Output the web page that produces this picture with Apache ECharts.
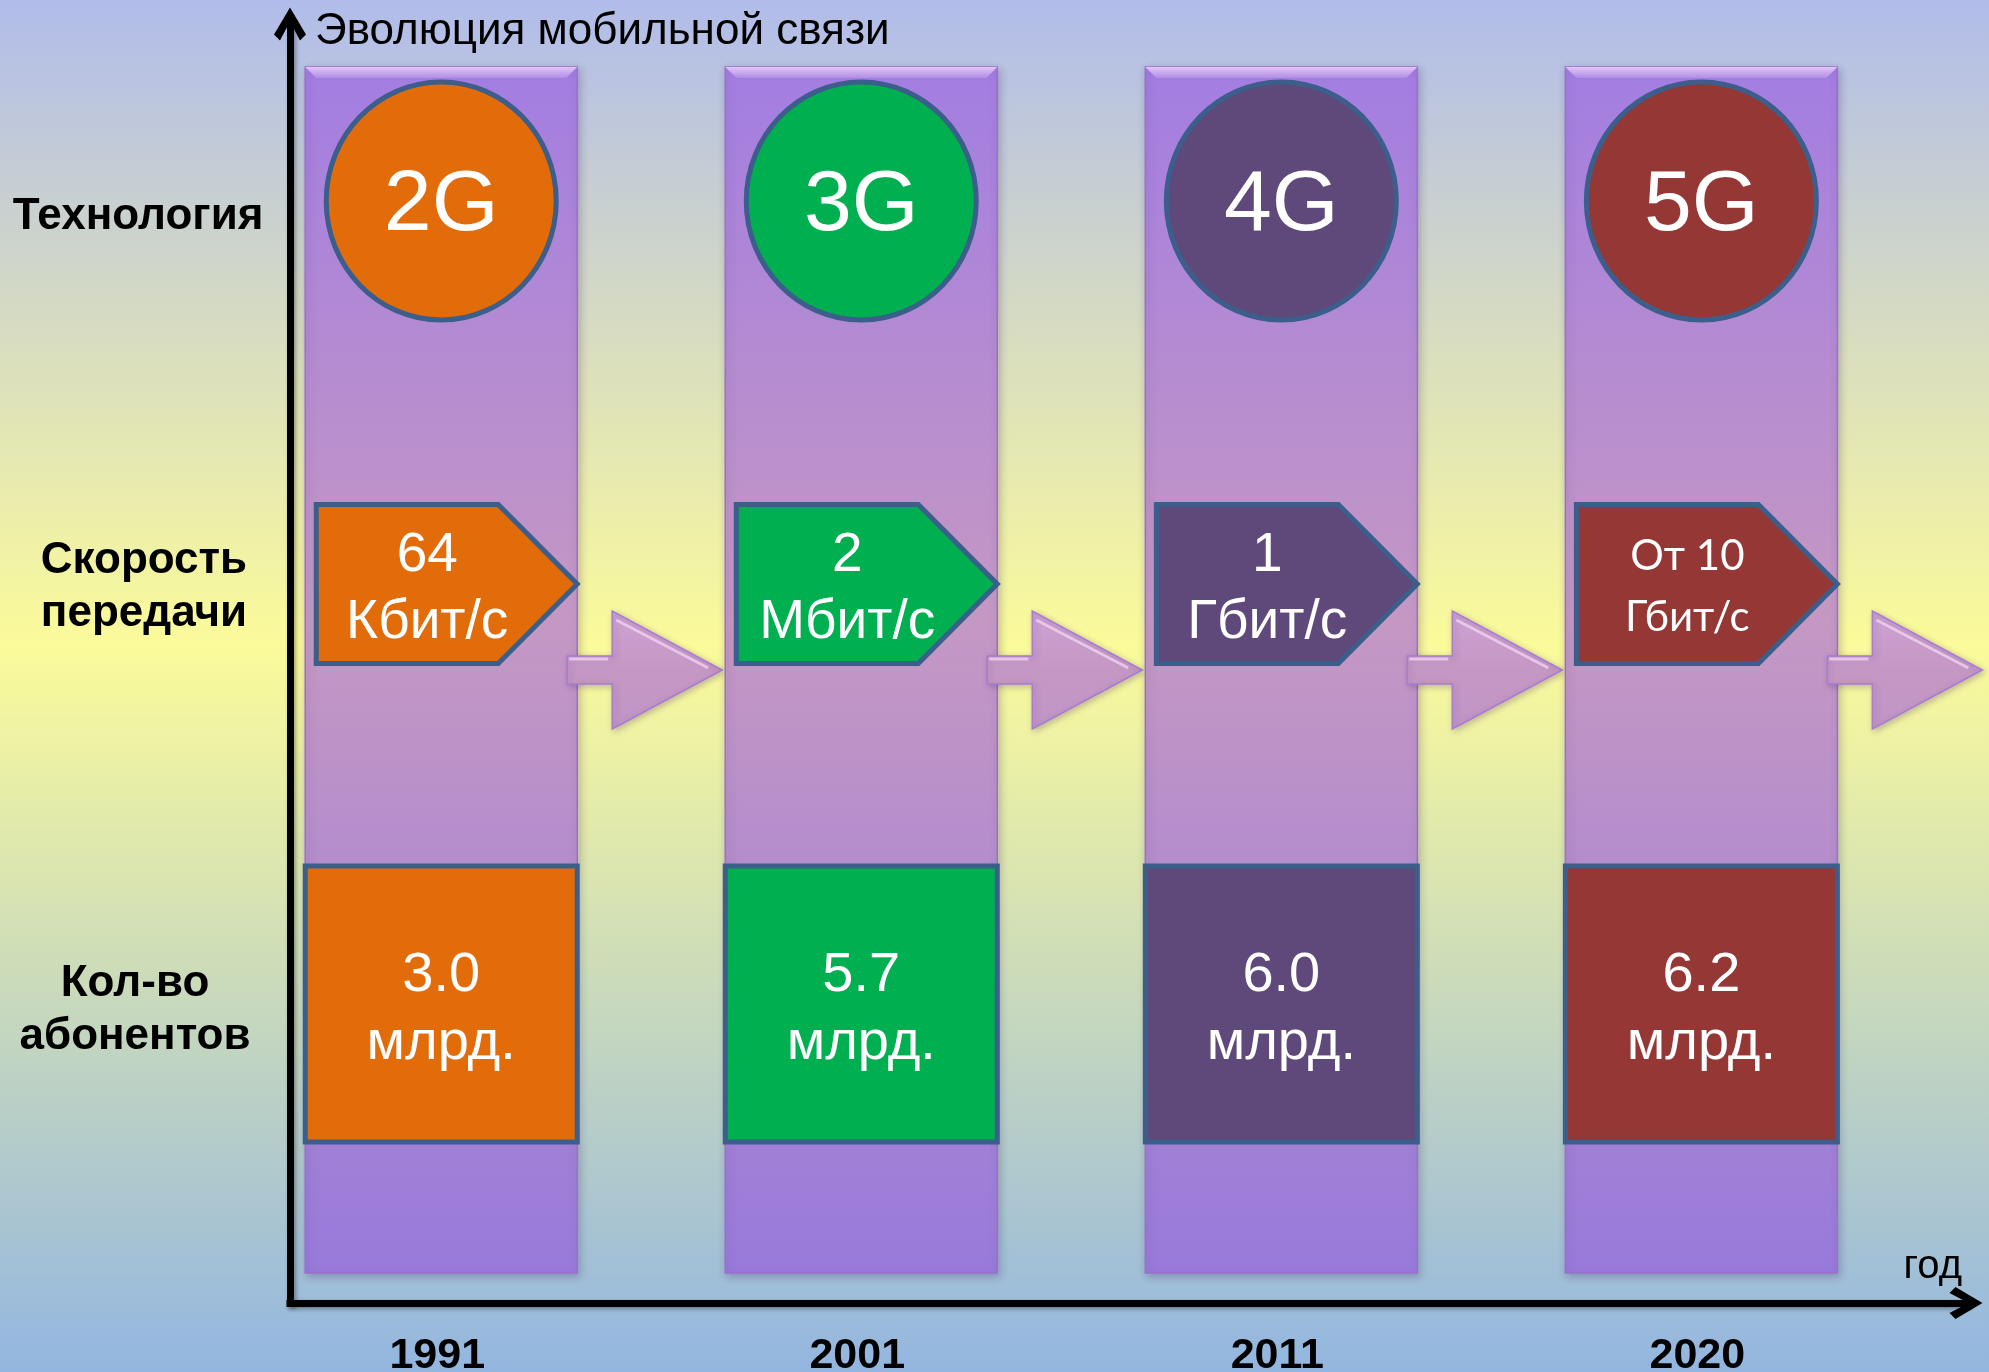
<!DOCTYPE html>
<html>
<head>
<meta charset="utf-8">
<script src="https://cdn.jsdelivr.net/npm/echarts@6/dist/echarts.min.js"></script>
<style>
html,body{margin:0;padding:0;background:#fff;}
#c{width:1989px;height:1372px;}
</style>
</head>
<body>
<div id="c"></div>
<script>
// ---- data ----
const years = ['1991', '2001', '2011', '2020'];
const technologies = ['2G', '3G', '4G', '5G'];
const speedValues = ['64', '2', '1', 'От 10'];
const speedUnits = ['Кбит/с', 'Мбит/с', 'Гбит/с', 'Гбит/с'];
const subscribers = [3.0, 5.7, 6.0, 6.2];
const subscriberUnit = 'млрд.';
const rowLabels = ['Технология', 'Скорость\nпередачи', 'Кол-во\nабонентов'];
const chartTitle = 'Эволюция мобильной связи';
const timeAxisName = 'год';

// ---- styles / layout ----
const palette = ['#E36C0A', '#00B050', '#5F497A', '#953735'];
const EDGE = '#3B5E8B';
const FONT = '"Liberation Sans", Arial, sans-serif';
const X_MIN = -0.36, X_MAX = 3.63;
const Y_MAX = 1279;
const COL_TOP = 1236, COL_BOTTOM = 30, COL_HALF = 136;
const ROW_TECH = 1102, ROW_SPEED = 719, ROW_SUBS = 299;
const LABEL_Y = [1086, 716, 293];
const LABEL_DX = [152, 146, 155];

const LG = (stops) => new echarts.graphic.LinearGradient(0, 0, 0, 1, stops);

function renderGeneration(params, api) {
  const i = api.value(0);
  const cx = api.coord([i, 0])[0];
  const yOf = v => api.coord([i, v])[1];
  const top = yOf(COL_TOP), bottom = yOf(COL_BOTTOM);
  const L = cx - COL_HALF, R = cx + COL_HALF;
  const techY = yOf(ROW_TECH), speedY = yOf(ROW_SPEED), subsY = yOf(ROW_SUBS);
  const color = palette[i];
  const ch = [];
  // column
  ch.push({
    type: 'rect', shape: { x: L, y: top, width: R - L, height: bottom - top },
    style: {
      fill: LG([{ offset: 0, color: '#A37DE2' }, { offset: 0.46, color: '#C598C3' }, { offset: 1, color: '#987ADB' }]),
      stroke: '#9A70CB', lineWidth: 1.5,
      shadowBlur: 8, shadowColor: 'rgba(70,40,110,0.30)', shadowOffsetX: 2, shadowOffsetY: 3
    }
  });
  ch.push({
    type: 'polygon', shape: { points: [[L, top], [R, top], [R - 11, top + 11], [L + 11, top + 11]] },
    style: { fill: LG([{ offset: 0, color: '#E2C4F6' }, { offset: 1, color: '#B18DE8' }]) }
  });
  // transition arrow
  const yc = speedY + 86;
  const s0 = R - 10, hb = R + 35, tip = R + 145;
  ch.push({
    type: 'polygon',
    shape: { points: [[s0, yc - 14], [hb, yc - 14], [hb, yc - 59], [tip, yc], [hb, yc + 59], [hb, yc + 14], [s0, yc + 14]] },
    style: {
      fill: LG([{ offset: 0, color: '#CDA2D2' }, { offset: 0.5, color: '#C597C4' }, { offset: 1, color: '#C095C6' }]),
      stroke: '#A77CD2', lineWidth: 1.5,
      shadowBlur: 6, shadowColor: 'rgba(80,50,120,0.30)', shadowOffsetX: 2, shadowOffsetY: 2
    }
  });
  ch.push({
    type: 'polyline', shape: { points: [[hb + 4, yc - 50], [tip - 14, yc - 2]] },
    style: { stroke: 'rgba(240,210,240,0.8)', lineWidth: 3 }
  });
  ch.push({
    type: 'polyline', shape: { points: [[s0 + 2, yc - 11], [hb - 4, yc - 11]] },
    style: { stroke: 'rgba(240,210,240,0.8)', lineWidth: 3 }
  });
  // technology ellipse
  ch.push({
    type: 'ellipse', shape: { cx: cx, cy: techY, rx: 115, ry: 119 },
    style: { fill: color, stroke: EDGE, lineWidth: 5 }
  });
  ch.push({
    type: 'text',
    style: {
      text: technologies[i], x: cx, y: techY + 5, align: 'center', verticalAlign: 'middle',
      fill: '#fff', fontSize: 86, fontFamily: FONT
    }
  });
  // speed pentagon
  const pL = L + 11, pBody = R - 79, pT = speedY - 79.5, pB = speedY + 79.5;
  ch.push({
    type: 'polygon', shape: { points: [[pL, pT], [pBody, pT], [R, speedY], [pBody, pB], [pL, pB]] },
    style: { fill: color, stroke: EDGE, lineWidth: 5, lineJoin: 'miter' }
  });
  const small = speedValues[i].length > 3;
  ch.push({
    type: 'text',
    style: {
      text: speedValues[i] + '\n' + speedUnits[i], x: cx - 14, y: speedY + (small ? 3 : 5),
      align: 'center', verticalAlign: 'middle', fill: '#fff',
      fontSize: small ? 42 : 55, lineHeight: small ? 61 : 67,
      fontFamily: small ? 'Lato, "Open Sans", sans-serif' : FONT
    }
  });
  // subscribers box
  ch.push({
    type: 'rect', shape: { x: L, y: subsY - 138, width: R - L, height: 276 },
    style: { fill: color, stroke: EDGE, lineWidth: 5 }
  });
  ch.push({
    type: 'text',
    style: {
      text: subscribers[i].toFixed(1) + '\n' + subscriberUnit, x: cx, y: subsY + 6,
      align: 'center', verticalAlign: 'middle', fill: '#fff',
      fontSize: 56, lineHeight: 68, fontFamily: FONT
    }
  });
  // year label
  ch.push({
    type: 'text',
    style: {
      text: years[i], x: cx - 4, y: api.coord([i, 0])[1] + 53, align: 'center', verticalAlign: 'middle',
      fill: '#000', fontSize: 43, fontWeight: 'bold', fontFamily: FONT
    }
  });
  return { type: 'group', children: ch };
}

function renderRowLabel(params, api) {
  const k = params.dataIndex;
  const p = api.coord([X_MIN, LABEL_Y[k]]);
  return {
    type: 'text',
    style: {
      text: rowLabels[k], x: p[0] - LABEL_DX[k], y: p[1], align: 'center', verticalAlign: 'middle',
      fill: '#000', fontSize: 44, fontWeight: 'bold', lineHeight: 53, fontFamily: FONT
    }
  };
}

const chevron = 'path://M16,0 L32,27 L26,33 L16,14 L6,33 L0,27 Z';
const axisLineStyle = {
  color: '#000', width: 7, cap: 'square',
  shadowBlur: 4, shadowColor: 'rgba(0,0,0,0.35)', shadowOffsetX: 2, shadowOffsetY: 2
};

const chart = echarts.init(document.getElementById('c'), null, { renderer: 'canvas' });
chart.setOption({
  animation: false,
  backgroundColor: {
    type: 'linear', x: 0, y: 0, x2: 0, y2: 1,
    colorStops: [
      { offset: 0, color: '#B1BCEA' },
      { offset: 0.47, color: '#FBFB9A' },
      { offset: 1, color: '#93B6E0' }
    ]
  },
  grid: { left: 290, right: 23, top: 24, bottom: 69, containLabel: false, outerBoundsMode: 'none' },
  xAxis: {
    type: 'value', min: X_MIN, max: X_MAX,
    name: timeAxisName, nameLocation: 'end', nameGap: -4,
    nameTextStyle: { align: 'right', verticalAlign: 'bottom', padding: [0, 0, 16, 0], fontSize: 40, color: '#000', fontFamily: FONT },
    axisLine: { show: true, onZero: false, symbol: ['none', chevron], symbolSize: [32, 34], lineStyle: axisLineStyle },
    axisTick: { show: false }, axisLabel: { show: false }, splitLine: { show: false }
  },
  yAxis: {
    type: 'value', min: 0, max: Y_MAX,
    name: chartTitle, nameLocation: 'end', nameGap: -8,
    nameTextStyle: { align: 'left', verticalAlign: 'middle', padding: [0, 0, 0, 25], fontSize: 44, color: '#000', fontFamily: FONT },
    axisLine: { show: true, onZero: false, symbol: ['none', chevron], symbolSize: [32, 34], lineStyle: axisLineStyle },
    axisTick: { show: false }, axisLabel: { show: false }, splitLine: { show: false }
  },
  series: [
    {
      type: 'custom', name: 'generations', renderItem: renderGeneration, clip: false,
      encode: { x: 0, y: 1 },
      data: years.map((y, i) => [i, 0])
    },
    {
      type: 'custom', name: 'rows', renderItem: renderRowLabel, clip: false,
      encode: { x: 0, y: 1 },
      data: rowLabels.map((r, k) => [X_MIN, LABEL_Y[k]])
    }
  ]
});
</script>
</body>
</html>
